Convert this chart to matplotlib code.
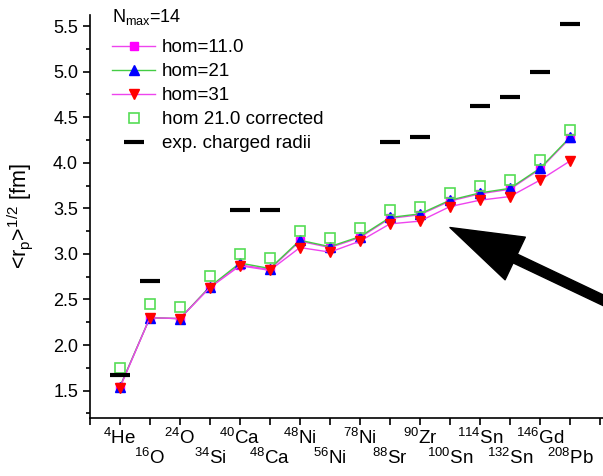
import numpy as np
import matplotlib
matplotlib.use("Agg")
import matplotlib.pyplot as plt
from matplotlib.ticker import MultipleLocator

plt.rcParams['font.family'] = ['Liberation Sans', 'DejaVu Sans']
plt.rcParams['mathtext.fontset'] = 'custom'
plt.rcParams['mathtext.rm'] = 'Liberation Sans'
plt.rcParams['mathtext.it'] = 'Liberation Sans:italic'

# nuclei along the x axis
nuclei = [r"$^{4}$He", r"$^{16}$O", r"$^{24}$O", r"$^{34}$Si", r"$^{40}$Ca", r"$^{48}$Ca",
          r"$^{48}$Ni", r"$^{56}$Ni", r"$^{78}$Ni", r"$^{88}$Sr", r"$^{90}$Zr", r"$^{100}$Sn",
          r"$^{114}$Sn", r"$^{132}$Sn", r"$^{146}$Gd", r"$^{208}$Pb"]

# point-proton radii for the different hw values
hom11 = [1.54, 2.30, 2.29, 2.64, 2.88, 2.83, 3.14, 3.07, 3.18, 3.39, 3.43, 3.58, 3.66, 3.71, 3.93, 4.27]
hom21 = [1.54, 2.30, 2.29, 2.64, 2.90, 2.84, 3.15, 3.08, 3.19, 3.40, 3.44, 3.59, 3.67, 3.72, 3.94, 4.28]
hom31 = [1.53, 2.30, 2.29, 2.63, 2.87, 2.82, 3.07, 3.02, 3.14, 3.33, 3.36, 3.52, 3.59, 3.63, 3.81, 4.02]
hom21_corr = [1.745, 2.45, 2.42, 2.76, 3.00, 2.95, 3.25, 3.17, 3.28, 3.48, 3.52, 3.67, 3.75, 3.81, 4.03, 4.36]
# experimental charge radii (nan = not measured)
exp_radii = [1.67, 2.70, np.nan, np.nan, 3.48, 3.48, np.nan, np.nan, np.nan,
             4.23, 4.28, np.nan, 4.62, 4.72, 5.00, 5.52]

x = np.arange(1, len(nuclei) + 1)

fig = plt.figure(figsize=(6.03, 4.76), dpi=100)
ax = fig.add_axes([0.149, 0.122, 0.851, 0.846])

ax.plot(x, hom11, color='#ee44ee', lw=1, marker='s', ms=6, mfc='#ff00ff', mec='#ff00ff', label='hom=11.0')
ax.plot(x, hom21, color='#44cc44', lw=1, marker='^', ms=7.5, mfc='#0000ff', mec='#0000ff', label='hom=21')
ax.plot(x, hom31, color='#ee44ee', lw=1, marker='v', ms=7.5, mfc='#ff0000', mec='#ff0000', label='hom=31')
ax.plot(x, hom21_corr, ls='none', marker='s', ms=6.5, mfc='none', mec='#55dd55', mew=1.2,
        label='hom 21.0 corrected')
ax.plot(x, exp_radii, ls='none', marker='_', ms=15, mew=3, color='black', label='exp. charged radii')

ax.set_xlim(0, 17.1)
ax.set_ylim(1.2, 5.62)
ax.set_xticks(np.arange(0, 18))
ax.set_xticklabels([''] + nuclei + [''], fontsize=13.5)
for i, lab in enumerate(ax.get_xticklabels()):
    if i % 2 == 0:
        lab.set_y(-0.05)
ax.yaxis.set_major_locator(MultipleLocator(0.5))
ax.yaxis.set_minor_locator(MultipleLocator(0.25))
ax.tick_params(axis='both', which='major', direction='out', length=5, width=1.2, labelsize=13)
ax.tick_params(axis='x', pad=2, labelsize=13.5)
ax.tick_params(axis='y', which='minor', direction='out', length=3, width=1.2)
ax.spines['top'].set_visible(False)
ax.spines['right'].set_visible(False)
ax.spines['left'].set_linewidth(1.2)
ax.spines['bottom'].set_linewidth(1.2)

ax.set_ylabel(r"<r$_\mathregular{p}$>$^\mathregular{1/2}$ [fm]", fontsize=15.5)
ax.yaxis.set_label_coords(-0.107, 0.5)

fig.text(112 / 603, 1 - 22 / 476, r"N$_\mathregular{max}$=14", fontsize=13, va='baseline', ha='left')
ax.legend(loc='upper left', bbox_to_anchor=(112 / 603, 1 - 39 / 476), bbox_transform=fig.transFigure,
          frameon=False, fontsize=13.5, numpoints=1, handlelength=2.3, handletextpad=0.37,
          labelspacing=0.37, borderpad=0, borderaxespad=0)

# big arrow pointing at the 100Sn region
ax.annotate('', xy=(12, 3.29), xytext=(17.5, 2.43), annotation_clip=False,
            arrowprops=dict(facecolor='black', edgecolor='black', width=7, headwidth=34,
                            headlength=52, shrink=0))

fig.savefig('out.png', dpi=100)
